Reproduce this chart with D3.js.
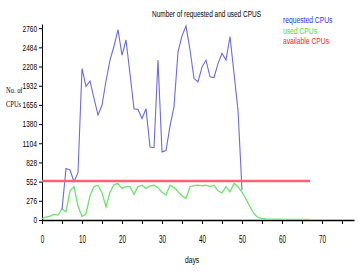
<!DOCTYPE html>
<html>
<head>
<meta charset="utf-8">
<script src="https://cdn.jsdelivr.net/npm/d3@7"></script>
<style>
  body { margin: 0; background: #fff; }
  text { font-family: "Liberation Sans", Arial, sans-serif; }
</style>
</head>
<body>
<script>
// requested CPUs, one value per day starting at day 5
const requestedStart = 5;
const requested = [150, 740, 720, 550, 680, 2180, 1920, 2000, 1750, 1510,
  1650, 2000, 2300, 2500, 2740, 2370, 2590, 2100, 1600, 1590,
  1460, 1600, 1050, 1040, 2300, 980, 1000, 1350, 1630, 2420,
  2650, 2790, 2450, 2035, 1990, 2200, 2300, 2060, 2050, 2250,
  2400, 2300, 2640, 2110, 1580, 430];

// used CPUs, one value per day starting at day 0
const usedStart = 0;
const used = [20, 40, 55, 80, 70, 160, 120, 420, 480, 200,
  50, 90, 350, 480, 500, 390, 190, 400, 510, 525,
  455, 480, 480, 370, 480, 500, 455, 490, 500, 465,
  400, 360, 500, 470, 407, 350, 311, 479, 495, 503,
  490, 500, 480, 500, 420, 390, 479, 407, 527, 480,
  400, 300, 190, 90, 35, 22, 16, 14, 12, 11,
  10, 10, 9, 9, 9, 8, 8, 8];

// available CPUs (flat line)
const availableDays = [0, 67];
const available = [560, 560];

const yTicks = [0, 276, 552, 828, 1104, 1380, 1656, 1932, 2208, 2484, 2760];
const xTicks = [0, 5, 10, 15, 20, 25, 30, 35, 40, 45, 50, 55, 60, 65, 70, 75];

const width = 359, height = 271;

const svg = d3.select("body").append("svg")
    .attr("width", width)
    .attr("height", height);

const x = d3.scaleLinear().domain([0, 78]).range([42, 354]);
const y = d3.scaleLinear().domain([0, 2820]).range([220, 24]);

// y axis
const yAxis = svg.append("g")
    .attr("transform", "translate(42,0)")
    .call(d3.axisLeft(y).tickValues(yTicks).tickSize(3).tickSizeOuter(0).tickPadding(2)
      .tickFormat(d3.format("d")));
yAxis.selectAll("text")
    .attr("font-size", 9).attr("font-family", null)
    .attr("textLength", d => String(d).length * 3.6)
    .attr("lengthAdjust", "spacingAndGlyphs");

// x axis
const xAxis = svg.append("g")
    .attr("transform", "translate(0,220)")
    .call(d3.axisBottom(x).tickValues(xTicks).tickSize(4).tickSizeOuter(0).tickPadding(11)
      .tickFormat(d => d % 10 === 0 ? d : ""));
xAxis.select(".domain").attr("stroke-width", 1.5);
xAxis.selectAll("text")
    .attr("font-size", 11).attr("font-family", null)
    .attr("textLength", d => d % 10 === 0 ? String(d).length * 3.5 : null)
    .attr("lengthAdjust", "spacingAndGlyphs");

const line = d3.line().x(d => x(d[0])).y(d => y(d[1]));

const usedPts = used.map((v, i) => [usedStart + i, v]);
const reqPts = requested.map((v, i) => [requestedStart + i, v]);
const availPts = available.map((v, i) => [availableDays[i], v]);

svg.append("path").datum(usedPts)
    .attr("d", line).attr("fill", "none")
    .attr("stroke", "#6ee26e").attr("stroke-width", 1.3);

svg.append("path").datum(reqPts)
    .attr("d", line).attr("fill", "none")
    .attr("stroke", "#6b6be0").attr("stroke-width", 1.1);

svg.append("path").datum(availPts)
    .attr("d", line).attr("fill", "none")
    .attr("stroke", "#ff6074").attr("stroke-width", 2.5);

// title (narrow look via horizontal squeeze)
svg.append("text")
    .attr("transform", "translate(152,17) scale(0.72,1)")
    .attr("font-size", 9)
    .text("Number of requested and used CPUS");

// legend
const legend = [
  { name: "requested CPUs", color: "#3030ee" },
  { name: "used CPUs", color: "#40e040" },
  { name: "available CPUs", color: "#ff2030" }
];
svg.append("g").selectAll("text")
  .data(legend).enter().append("text")
    .attr("transform", (d, i) => `translate(283,${23 + i * 10.5}) scale(0.75,1)`)
    .attr("font-size", 9)
    .attr("fill", d => d.color)
    .text(d => d.name);

// axis labels
svg.append("text")
    .attr("transform", "translate(6,93) scale(0.72,1)")
    .attr("font-size", 9)
    .style("font-family", "'Liberation Serif', serif")
    .text("No. of");
svg.append("text")
    .attr("transform", "translate(6,107) scale(0.72,1)")
    .attr("font-size", 9)
    .style("font-family", "'Liberation Serif', serif")
    .text("CPUs");
svg.append("text")
    .attr("transform", "translate(185,263) scale(0.75,1)")
    .attr("font-size", 9)
    .text("days");
</script>
</body>
</html>
